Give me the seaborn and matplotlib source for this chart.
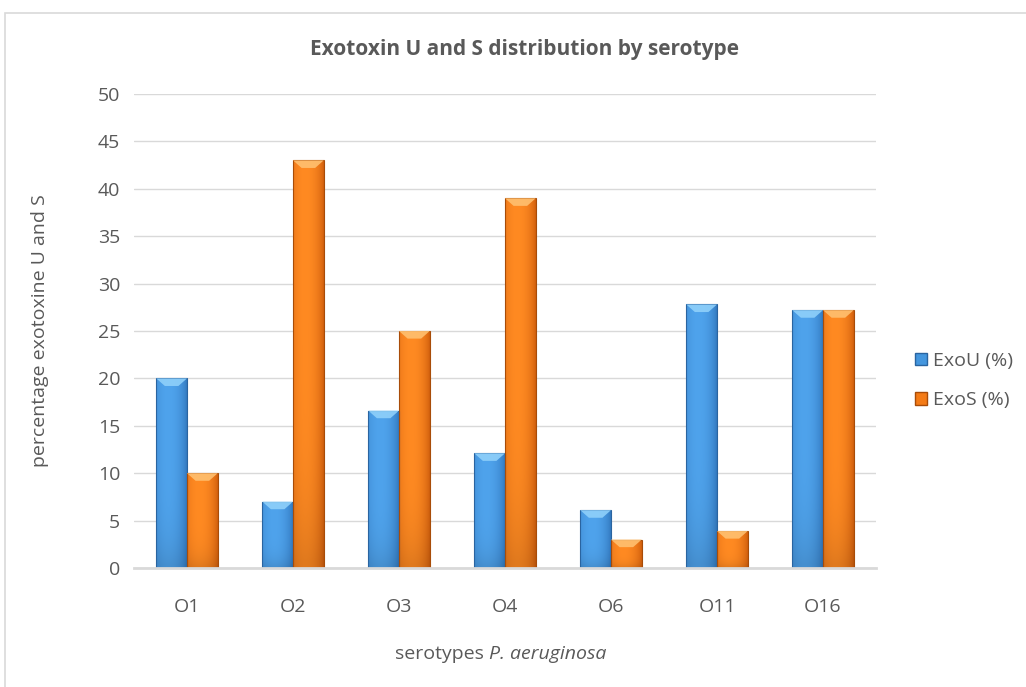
import matplotlib
matplotlib.use("Agg")
import matplotlib.pyplot as plt
import seaborn as sns
import pandas as pd
import numpy as np
from matplotlib.patches import Rectangle, Polygon, Patch
from matplotlib.colors import to_rgb

categories = ["O1", "O2", "O3", "O4", "O6", "O11", "O16"]
exou = [20, 7, 16.6, 12.1, 6.1, 27.8, 27.2]
exos = [10, 43, 25, 39, 3, 3.9, 27.2]
series = ["ExoU (%)", "ExoS (%)"]

df = pd.DataFrame({
    "serotype": categories * 2,
    "value": exou + exos,
    "series": [series[0]] * len(categories) + [series[1]] * len(categories),
})

sns.set_theme(style="white")
plt.rcParams["font.family"] = ["Open Sans", "DejaVu Sans"]
txt = "#595959"
grid = "#D9D9D9"
blue = "#4496DE"
orange = "#F47B16"
blue_light, blue_dark = "#4FA3EC", "#2E72B8"
orange_light, orange_dark = "#FF8A22", "#C9580A"
blue_edge = "#2A64A0"
orange_edge = "#A84C08"

W, H = 1026, 687
fig = plt.figure(figsize=(W / 100, H / 100), dpi=100)
fig.patches.append(Rectangle((5 / W, -0.2), 1.2, 1.2 - 13 / H, transform=fig.transFigure,
                             fill=False, edgecolor=grid, linewidth=1.2))
ax = fig.add_axes([134 / W, 1 - 568 / H, 742 / W, 474 / H])

sns.barplot(data=df, x="serotype", y="value", hue="series", order=categories,
            hue_order=series, palette=[blue, orange], width=0.58, ax=ax,
            legend=False, saturation=1, linewidth=1)

t = np.linspace(0, 1, 64)
prof = np.clip(1 - ((t - 0.4) / 0.62) ** 2, 0, 1) ** 0.7
vprof = np.linspace(1, 0.0, 32) ** 6  # darker near the base
bars = list(ax.patches)
for i, p in enumerate(bars):
    isu = i < len(categories)
    light = np.array(to_rgb(blue_light if isu else orange_light))
    dark = np.array(to_rgb(blue_dark if isu else orange_dark))
    row = dark[None, :] * (1 - prof[:, None]) + light[None, :] * prof[:, None]
    img = row[None, :, :] * (1 - 0.12 * vprof[::-1][:, None, None])
    x0, y0 = p.get_x(), p.get_y()
    w, h = p.get_width(), p.get_height()
    im = ax.imshow(img, extent=(x0, x0 + w, y0, y0 + h), aspect="auto", zorder=2,
                   interpolation="bilinear", origin="upper")
    im.set_clip_path(p)
    p.set_edgecolor(blue_edge if isu else orange_edge)
    p.set_linewidth(0.8)
    p.set_facecolor("none")
    p.set_zorder(3)
    cap = 0.8
    capc = "#8FD0FA" if isu else "#FFC070"
    ax.add_patch(Polygon([(x0, y0 + h), (x0 + w, y0 + h), (x0 + w * 0.72, y0 + h - cap),
                          (x0 + w * 0.28, y0 + h - cap)], closed=True,
                         facecolor=capc, edgecolor="none", zorder=3, alpha=0.9))

ax.set_ylim(0, 50)
ax.set_yticks(range(0, 51, 5))
ax.set_xlim(-0.5, len(categories) - 0.5)
ax.yaxis.grid(True, color=grid, linewidth=1)
ax.set_axisbelow(True)
for s in ["top", "right", "left"]:
    ax.spines[s].set_visible(False)
ax.spines["bottom"].set_color(grid)
ax.spines["bottom"].set_linewidth(2)
ax.spines["bottom"].set_zorder(4)
ax.tick_params(axis="both", length=0, labelsize=14, colors=txt)
ax.tick_params(axis="y", pad=10)
ax.tick_params(axis="x", pad=21.6)

ax.set_xlabel("")
ax.set_ylabel("")
fig.text(40 / W, 1 - 331 / H, "percentage exotoxine U and S", rotation=90,
         ha="center", va="center", fontsize=14, color=txt)
fig.text(489 / W, 1 - 659 / H, "serotypes ", ha="right", va="baseline", fontsize=14, color=txt)
fig.text(489 / W, 1 - 659 / H, "P. aeruginosa", ha="left", va="baseline", fontsize=14,
         color=txt, style="italic")
fig.text(525 / W, 1 - 50 / H, "Exotoxin U and S distribution by serotype",
         ha="center", va="center", fontsize=15, fontweight="bold", color=txt)

handles = [Patch(facecolor=blue, edgecolor=blue_edge), Patch(facecolor=orange, edgecolor=orange_edge)]
ax.legend(handles, series, loc="upper left", bbox_to_anchor=(915 / W, 1 - 352 / H),
          bbox_transform=fig.transFigure, frameon=False, fontsize=14, borderpad=0,
          borderaxespad=0, labelcolor=txt, handlelength=0.62, handleheight=0.62,
          handletextpad=0.31, labelspacing=1.1)

fig.savefig("out.png", dpi=100)
